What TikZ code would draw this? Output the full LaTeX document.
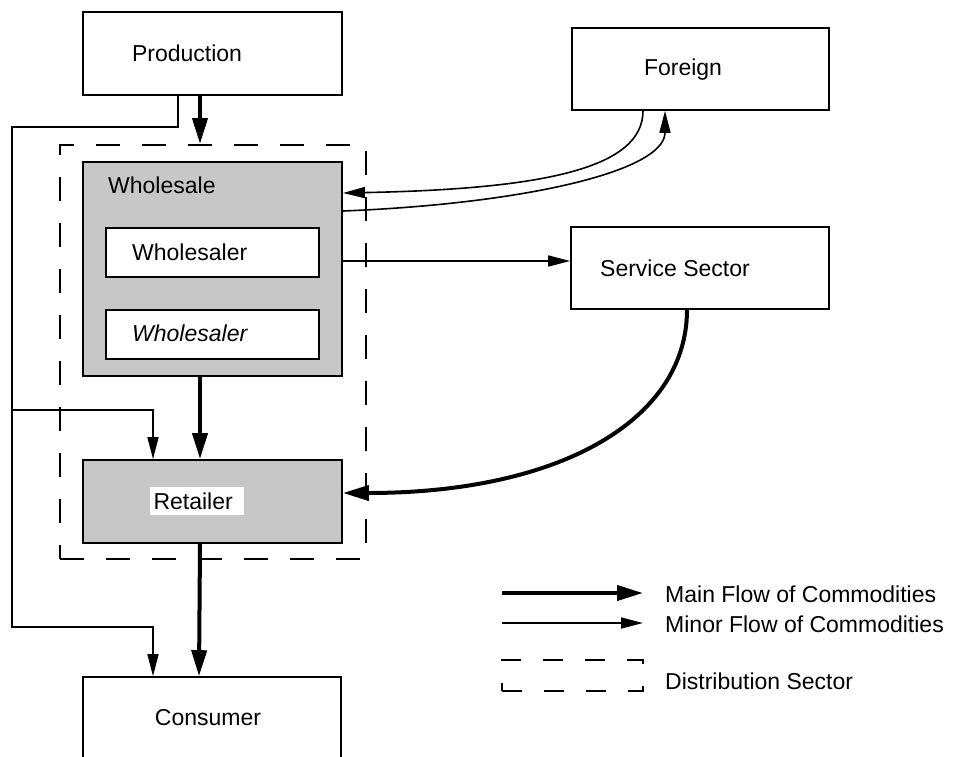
\documentclass[tikz,border=0pt]{standalone}
\usepackage{fontspec}
\setmainfont{Liberation Sans}
\usetikzlibrary{arrows.meta,calc}

\tikzset{
  box/.style={draw, line width=1.6pt, inner sep=0pt, fill=white},
  shaded/.style={draw, line width=1.8pt, inner sep=0pt, fill=black!22},
  sector/.style={draw, line width=2pt, dash pattern=on 24pt off 22pt, inner sep=0pt},
  lbl/.style={inner sep=0pt, font=\fontsize{23}{27}\selectfont},
  mainflow/.style={line width=4pt, -{Triangle[length=26pt,width=15pt]}},
  minorflow/.style={line width=1.6pt, -{Triangle[length=22pt,width=11pt]}},
}

\begin{document}
\begin{tikzpicture}[x=1pt, y=-1pt]
\useasboundingbox (0,0) rectangle (954,756);

% boxes
\node[box, minimum width=259pt, minimum height=83pt] (prod) at (212.5,53.5) {};
\node[box, minimum width=257pt, minimum height=82pt] (foreign) at (700.5,69) {};
\node[box, minimum width=258pt, minimum height=82pt] (service) at (700,268) {};
\node[sector, minimum width=306pt, minimum height=414pt] (dist) at (213,352) {};
\node[shaded, minimum width=259pt, minimum height=214pt] (wholesale) at (212.5,269) {};
\node[box, line width=1.4pt, minimum width=213pt, minimum height=49pt] (wsr1) at (212.5,252.5) {};
\node[box, line width=1.4pt, minimum width=213pt, minimum height=49pt] (wsr2) at (212.5,334.5) {};
\node[shaded, minimum width=259pt, minimum height=83pt] (retail) at (212.5,501.5) {};
\node[box, minimum width=258pt, minimum height=113pt] (consumer) at (212,733.5) {};

% labels
\node[lbl] (tprod) at (187,53) {Production};
\node[lbl] (tforeign) at (683,70) {Foreign};
\node[lbl, anchor=west] (tservice) at (600,268) {Service Sector};
\node[lbl, anchor=west] (twholesale) at (108,185) {Wholesale};
\node[lbl, anchor=west] (twsr1) at (132,252) {Wholesaler};
\node[lbl, anchor=west] (twsr2) at (132,333) {\itshape Wholesaler};
\node[lbl, fill=white, inner xsep=4pt, inner ysep=6pt] (tretail) at (197,501) {Retailer\,\,};
\node[lbl] (tconsumer) at (208,718) {Consumer};

% columns and bends for the connectors
\coordinate (cMain) at (200,0);
\coordinate (cSide) at (153,0);
\coordinate (cTap) at (178,0);
\coordinate (turnTop) at (12,127);
\coordinate (turnBranch) at (12,410);
\coordinate (turnBot) at (12,627);

% main flow down the chain
\draw[mainflow] (prod.south -| cMain) -- (dist.north -| cMain);
\draw[mainflow] (wholesale.south -| cMain) -- (retail.north -| cMain);
\draw[mainflow] (retail.south -| cMain) -- ([xshift=-13pt]consumer.north);

% direct minor flow from production
\draw[minorflow] (prod.south -| cTap) |- (turnTop) -- (turnBot) -| (consumer.north -| cSide);
\draw[minorflow] (turnBranch) -| (retail.north -| cSide);

% exchange with foreign
\draw[minorflow] ([xshift=-57.5pt]foreign.south) .. controls (643,168) and (545,189) .. ([yshift=76pt]wholesale.east);
\draw[minorflow] ([yshift=58pt]wholesale.east) .. controls (520,204) and (665,172) .. ([xshift=-35.5pt]foreign.south);

% service sector
\draw[minorflow] ([yshift=8pt]wholesale.east) -- ([yshift=8pt]wholesale.east -| service.west);
\draw[mainflow] ([xshift=-13pt]service.south) .. controls (687,420) and (560,493) .. ([yshift=8.5pt]retail.east);

% legend
\coordinate (lgMainA) at (502,593);
\coordinate (lgMainB) at (643,593);
\coordinate (lgMinorA) at (502,623);
\coordinate (lgMinorB) at (643,623);
\draw[mainflow] (lgMainA) -- (lgMainB);
\draw[minorflow] (lgMinorA) -- (lgMinorB);
\node[sector, line width=1.6pt, dash pattern=on 20pt off 22pt, minimum width=141pt, minimum height=31pt] (lgSector) at (572.5,675.5) {};
\node[lbl, anchor=west] (lgMainT) at (665,594) {Main Flow of Commodities};
\node[lbl, anchor=west] (lgMinorT) at (665,624) {Minor Flow of Commodities};
\node[lbl, anchor=west] (lgSectorT) at (665,681) {Distribution Sector};
\end{tikzpicture}
\end{document}
